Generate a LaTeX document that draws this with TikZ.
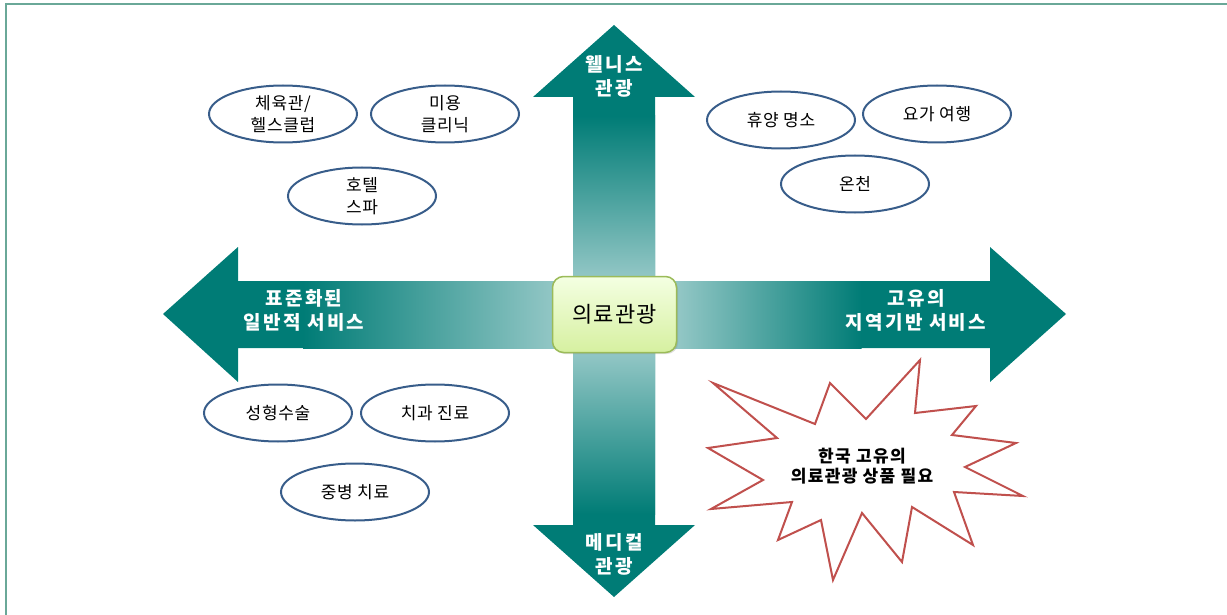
\documentclass[tikz,border=0pt]{standalone}
\usepackage{fontspec}
\setmainfont{Noto Sans CJK KR}
\usetikzlibrary{shapes.geometric,shadows}
\definecolor{tealmain}{RGB}{0,124,118}
\definecolor{teallight}{RGB}{196,224,224}
\definecolor{framecol}{RGB}{106,168,152}
\definecolor{ellcol}{RGB}{56,93,138}
\definecolor{burstcol}{RGB}{192,80,77}
\definecolor{boxtop}{RGB}{244,255,226}
\definecolor{boxbot}{RGB}{214,240,160}
\definecolor{boxline}{RGB}{155,187,89}
\tikzset{
  oval/.style={ellipse, draw=ellcol, line width=2pt, fill=white, minimum width=148pt, minimum height=57pt, inner sep=0pt, align=center, font=\fontsize{17}{22.5}\selectfont\addfontfeature{LetterSpace=4}},
  armlabel/.style={text=white, align=center, font=\fontsize{19}{24}\selectfont\bfseries\addfontfeature{LetterSpace=12}},
  armfill/.style={fill=tealmain, draw=none},
}
\begin{document}
\begin{tikzpicture}[x=1pt,y=-1pt]
\useasboundingbox (0,0) rectangle (1227,615);
\begin{scope}
\clip (0,0) rectangle (1227,615);
\draw[framecol, line width=1.5pt] (6,4) rectangle (1250,640);
\end{scope}
% top arm
\fill[armfill] (573,280) -- (573,97) -- (533,97) -- (614,25) -- (695,97) -- (655,97) -- (655,280) -- cycle;
\shade[top color=tealmain, bottom color=teallight] (573,116) rectangle (655,332);
% bottom arm
\fill[armfill] (573,350) -- (573,525) -- (533,525) -- (614,597) -- (695,525) -- (655,525) -- (655,350) -- cycle;
\shade[top color=teallight, bottom color=tealmain] (573,298) rectangle (655,514);
% left arm
\fill[armfill] (555,281) -- (238,281) -- (238,247) -- (163,314) -- (238,382) -- (238,348) -- (555,348) -- cycle;
\shade[left color=tealmain, right color=teallight] (303,281) rectangle (639,348);
% right arm
\fill[armfill] (675,281) -- (990,281) -- (990,247) -- (1066,314) -- (990,382) -- (990,348) -- (675,348) -- cycle;
\shade[left color=teallight, right color=tealmain] (615.5,281) rectangle (861.5,348);
% center box
\node[draw=boxline, line width=1.5pt, rounded corners=11pt, top color=boxtop, bottom color=boxbot,
  minimum width=124pt, minimum height=76pt, drop shadow={opacity=0.25, shadow xshift=1.5pt, shadow yshift=-1.5pt},
  font=\fontsize{22}{24}\selectfont\addfontfeature{LetterSpace=6}] (center) at (614.5,314.5) {의료관광};
% arm labels
\node[armlabel] (wellness) at (614,76) {웰니스\\관광};
\node[armlabel] (medical) at (614,554) {메디컬\\관광};
\node[armlabel] (standard) at (304,310) {표준화된\\일반적 서비스};
\node[armlabel] (local) at (916,310) {고유의\\지역기반 서비스};
% ellipses
\node[oval] (gym) at (283,114) {체육관/\\헬스클럽};
\node[oval] (beauty) at (445,114) {미용\\클리닉};
\node[oval] (hotel) at (362,196) {호텔\\스파};
\node[oval] (resort) at (781,120) {휴양 명소};
\node[oval] (yoga) at (937,114) {요가 여행};
\node[oval] (spring) at (855,184) {온천};
\node[oval] (plastic) at (278,413) {성형수술};
\node[oval] (dental) at (435,413) {치과 진료};
\node[oval] (disease) at (355,492) {중병 치료};
% starburst
\draw[burstcol, line width=2pt, line join=miter, fill=white]
 (713,383) -- (815,424) -- (830,383) -- (866,419) -- (920,360) -- (915,413) -- (976,406) -- (952,435)
 -- (1016,443) -- (965,467) -- (1023,496) -- (954,492) -- (973,545) -- (912,507) -- (902,562) -- (862,513)
 -- (833,580) -- (821,520) -- (778,540) -- (792,502) -- (711,509) -- (763,480) -- (708,448) -- (777,438) -- cycle;
\node[align=center, font=\fontsize{17}{20}\selectfont\bfseries\addfontfeature{LetterSpace=8}] (need) at (862,466) {한국 고유의\\의료관광 상품 필요};
\end{tikzpicture}
\end{document}
